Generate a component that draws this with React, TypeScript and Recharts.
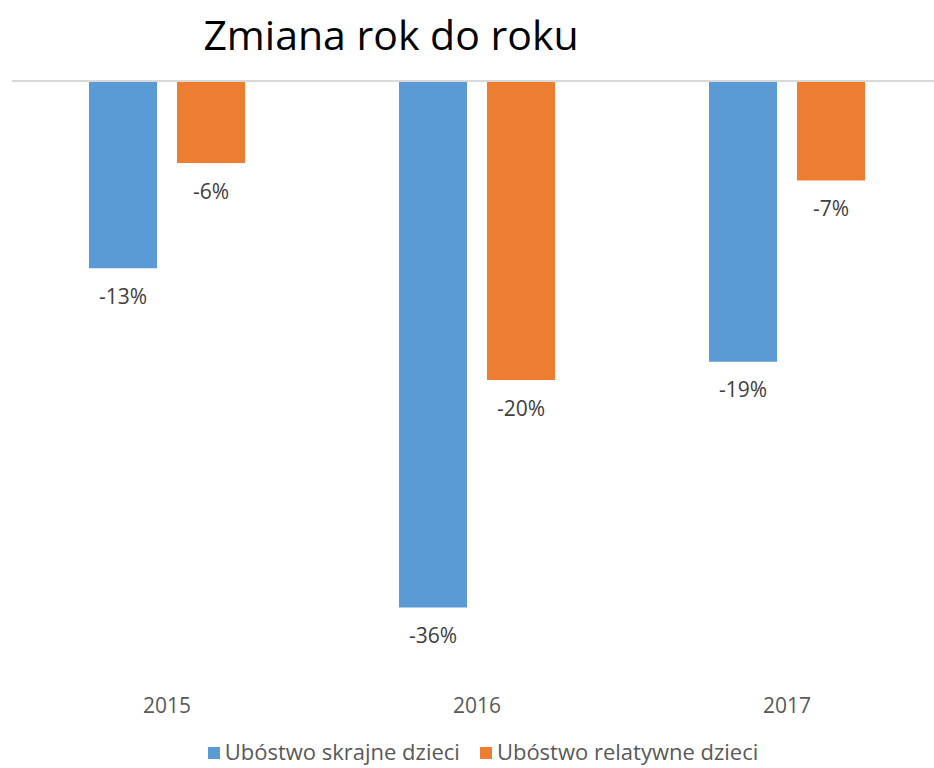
import React from 'react';
import { BarChart, Bar, XAxis, YAxis, ReferenceLine, LabelList } from 'recharts';

const years = ['2015', '2016', '2017'];
const skrajne = [-12.8, -36, -19.2];
const relatywne = [-5.6, -20.45, -6.8];
const seriesNames = ['Ubóstwo skrajne dzieci', 'Ubóstwo relatywne dzieci'];
const colors = ['#5B9BD5', '#ED7D31'];

const data = years.map((year, i) => ({ year, skrajne: skrajne[i], relatywne: relatywne[i] }));

const FONT = '"Open Sans", sans-serif';

const BelowLabel = (props: any) => {
    const { x, y, width, height, value } = props;
    const bottom = Math.max(y, y + height);
    return (
        <text
            x={x + width / 2}
            y={bottom + 30}
            textAnchor="middle"
            dominantBaseline="middle"
            fill="#404040"
            fontSize={21}
            fontFamily={FONT}
        >
            {Math.round(value)}%
        </text>
    );
};

export default function App() {
    return (
        <div style={{ position: 'absolute', left: 0, top: 0, width: 934, height: 768, background: '#fff', overflow: 'hidden' }}>
            <div
                style={{
                    position: 'absolute',
                    left: 0,
                    width: 782,
                    top: 6,
                    textAlign: 'center',
                    fontFamily: FONT,
                    fontSize: 41,
                    color: '#000',
                }}
            >
                Zmiana rok do roku
            </div>
            <BarChart
                width={934}
                height={768}
                data={data}
                margin={{ top: 81, right: -8, left: 12, bottom: 72 }}
                barGap={20}
                barCategoryGap={77}
            >
                <XAxis
                    dataKey="year"
                    axisLine={false}
                    tickLine={false}
                    tickMargin={26}
                    tick={{ fill: '#595959', fontSize: 21, fontFamily: FONT }}
                />
                <YAxis hide domain={[-40, 0]} />
                <ReferenceLine y={0} stroke="#D9D9D9" strokeWidth={2} />
                <Bar dataKey="skrajne" fill={colors[0]} isAnimationActive={false}>
                    <LabelList dataKey="skrajne" content={BelowLabel} />
                </Bar>
                <Bar dataKey="relatywne" fill={colors[1]} isAnimationActive={false}>
                    <LabelList dataKey="relatywne" content={BelowLabel} />
                </Bar>
            </BarChart>
            {/* legend */}
            <div
                style={{
                    position: 'absolute',
                    left: 0,
                    width: 966,
                    top: 738,
                    height: 26,
                    lineHeight: '26px',
                    display: 'flex',
                    justifyContent: 'center',
                    gap: 20,
                    fontFamily: FONT,
                    fontSize: 22,
                    color: '#595959',
                }}
            >
                {seriesNames.map((name, i) => (
                    <div key={name} style={{ display: 'flex', alignItems: 'center' }}>
                        <span style={{ width: 12, height: 12, background: colors[i], display: 'inline-block', marginRight: 5, marginTop: 4 }} />
                        <span>{name}</span>
                    </div>
                ))}
            </div>
        </div>
    );
}
